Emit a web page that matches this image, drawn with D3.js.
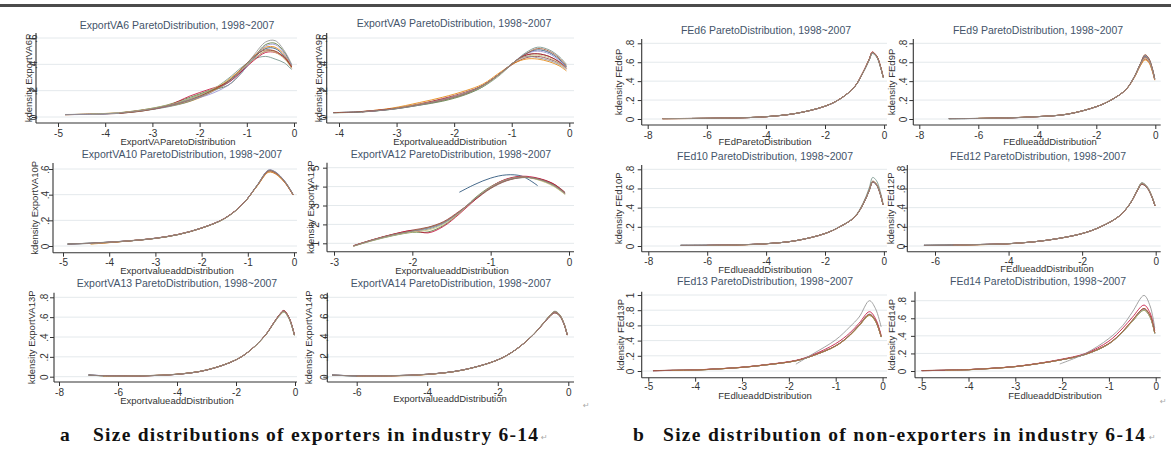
<!DOCTYPE html>
<html>
<head>
<meta charset="utf-8">
<script src="https://cdn.jsdelivr.net/npm/d3@7"></script>
<style>
  body { margin: 0; background: #ffffff; }
  svg text { font-family: "Liberation Sans", Arial, sans-serif; }
</style>
</head>
<body>
<svg id="fig" width="1171" height="450"></svg>
<script>
// ---- data: kernel density estimates per year, 1998-2007 ----
const years = [1998, 1999, 2000, 2001, 2002, 2003, 2004, 2005, 2006, 2007];

// ExportVA6
const va6Grid = [-4.85, -4.3, -3.7, -3.2, -2.7, -2.2, -1.8, -1.4, -1.1, -0.85, -0.6, -0.4, -0.2, -0.05];
const va6Density = [
  [0.018, 0.022, 0.030, 0.052, 0.085, 0.14, 0.20, 0.27, 0.36, 0.45, 0.52, 0.52, 0.46, 0.38],
  [null, 0.020, 0.028, 0.048, 0.080, 0.13, 0.19, 0.26, 0.35, 0.44, 0.50, 0.50, 0.45, 0.37],
  [null, null, 0.032, 0.055, 0.090, 0.15, 0.20, 0.24, 0.34, 0.45, 0.55, 0.56, 0.49, 0.39],
  [0.016, 0.024, 0.031, 0.050, 0.078, 0.12, 0.18, 0.28, 0.37, 0.46, 0.53, 0.53, 0.47, 0.38],
  [null, 0.022, 0.029, 0.047, 0.075, 0.12, 0.19, 0.29, 0.38, 0.44, 0.46, 0.44, 0.41, 0.36],
  [null, null, 0.030, 0.052, 0.083, 0.16, 0.21, 0.26, 0.35, 0.43, 0.49, 0.49, 0.45, 0.38],
  [0.017, 0.021, 0.030, 0.049, 0.079, 0.13, 0.17, 0.24, 0.34, 0.45, 0.54, 0.55, 0.48, 0.39],
  [null, 0.023, 0.033, 0.054, 0.088, 0.14, 0.20, 0.28, 0.36, 0.44, 0.50, 0.49, 0.44, 0.37],
  [null, null, 0.028, 0.046, 0.082, 0.13, 0.19, 0.27, 0.37, 0.46, 0.51, 0.50, 0.45, 0.38],
  [0.019, 0.022, 0.031, 0.051, 0.084, 0.13, 0.18, 0.26, 0.36, 0.47, 0.57, 0.58, 0.50, 0.40]
];

// ExportVA9
const va9Grid = [-4.1, -3.6, -3.1, -2.6, -2.2, -1.8, -1.5, -1.2, -0.95, -0.75, -0.55, -0.35, -0.18, -0.05];
const va9Density = [
  [0.033, 0.040, 0.060, 0.095, 0.130, 0.180, 0.240, 0.330, 0.420, 0.480, 0.510, 0.490, 0.440, 0.380],
  [null, 0.042, 0.063, 0.100, 0.140, 0.190, 0.240, 0.330, 0.410, 0.450, 0.460, 0.440, 0.410, 0.370],
  [0.032, 0.038, 0.058, 0.090, 0.120, 0.170, 0.230, 0.330, 0.420, 0.470, 0.480, 0.460, 0.420, 0.380],
  [null, 0.041, 0.066, 0.110, 0.150, 0.200, 0.250, 0.340, 0.410, 0.440, 0.440, 0.420, 0.390, 0.350],
  [0.034, 0.040, 0.057, 0.090, 0.125, 0.175, 0.230, 0.320, 0.420, 0.490, 0.530, 0.510, 0.460, 0.400],
  [null, 0.039, 0.061, 0.097, 0.135, 0.180, 0.240, 0.330, 0.420, 0.470, 0.480, 0.460, 0.420, 0.370],
  [0.033, 0.040, 0.059, 0.093, 0.130, 0.180, 0.240, 0.330, 0.420, 0.480, 0.500, 0.480, 0.430, 0.380],
  [null, null, 0.062, 0.098, 0.130, 0.180, 0.235, 0.325, 0.420, 0.460, 0.470, 0.450, 0.410, 0.370],
  [0.033, 0.041, 0.060, 0.094, 0.128, 0.178, 0.240, 0.330, 0.420, 0.480, 0.520, 0.500, 0.450, 0.390],
  [null, 0.040, 0.058, 0.092, 0.130, 0.180, 0.240, 0.330, 0.420, 0.460, 0.450, 0.430, 0.400, 0.360]
];

// ExportVA10
const va10Grid = [-4.9, -4.4, -4, -3.5, -3, -2.5, -2, -1.5, -1.1, -0.8, -0.55, -0.4, -0.2, -0.02];
const va10Density = [
  [0.015, 0.022, 0.030, 0.042, 0.060, 0.090, 0.140, 0.215, 0.330, 0.470, 0.585, 0.570, 0.500, 0.400],
  [null, 0.018, 0.027, 0.042, 0.061, 0.091, 0.141, 0.216, 0.331, 0.468, 0.578, 0.564, 0.496, 0.398],
  [0.016, 0.020, 0.028, 0.041, 0.059, 0.089, 0.139, 0.214, 0.329, 0.472, 0.590, 0.575, 0.504, 0.402],
  [null, 0.015, 0.026, 0.043, 0.060, 0.090, 0.140, 0.215, 0.330, 0.466, 0.575, 0.561, 0.494, 0.397],
  [0.015, 0.023, 0.031, 0.042, 0.060, 0.090, 0.140, 0.215, 0.330, 0.471, 0.588, 0.573, 0.502, 0.401],
  [null, 0.019, 0.029, 0.042, 0.060, 0.091, 0.140, 0.216, 0.331, 0.469, 0.582, 0.567, 0.498, 0.399],
  [0.014, 0.021, 0.030, 0.043, 0.061, 0.090, 0.141, 0.215, 0.330, 0.473, 0.592, 0.577, 0.505, 0.403],
  [null, 0.017, 0.028, 0.042, 0.060, 0.090, 0.140, 0.214, 0.329, 0.467, 0.580, 0.566, 0.497, 0.399],
  [0.015, 0.022, 0.030, 0.042, 0.060, 0.090, 0.140, 0.215, 0.330, 0.470, 0.586, 0.571, 0.500, 0.400],
  [0.016, 0.022, 0.030, 0.042, 0.060, 0.090, 0.140, 0.215, 0.330, 0.471, 0.589, 0.574, 0.503, 0.401]
];

// ExportVA12
const va12Grid = [-2.75, -2.5, -2.25, -2, -1.8, -1.6, -1.4, -1.2, -1, -0.8, -0.6, -0.4, -0.2, -0.05];
const va12Density = [
  [null, null, null, null, null, null, 3.70, 4.12, 4.45, 4.62, 4.55, 4.05, null, null],
  [0.88, 1.20, 1.48, 1.70, 1.85, 2.15, 2.70, 3.30, 3.90, 4.30, 4.48, 4.42, 4.15, 3.70],
  [0.85, 1.15, 1.40, 1.58, 1.60, 1.95, 2.60, 3.40, 4.00, 4.38, 4.52, 4.38, 4.05, 3.60],
  [0.86, 1.18, 1.45, 1.65, 1.82, 2.10, 2.65, 3.35, 3.95, 4.35, 4.50, 4.40, 4.10, 3.65],
  [0.86, 1.17, 1.43, 1.62, 1.75, 2.05, 2.62, 3.32, 3.92, 4.32, 4.47, 4.43, 4.12, 3.68],
  [0.87, 1.19, 1.47, 1.68, 1.55, 1.90, 2.55, 3.30, 3.98, 4.40, 4.55, 4.45, 4.15, 3.66],
  [0.86, 1.18, 1.44, 1.64, 1.80, 2.08, 2.66, 3.36, 3.95, 4.34, 4.49, 4.39, 4.08, 3.63],
  [0.85, 1.16, 1.42, 1.60, 1.70, 2.00, 2.60, 3.35, 3.97, 4.36, 4.50, 4.36, 4.02, 3.58],
  [0.87, 1.19, 1.46, 1.66, 1.83, 2.12, 2.67, 3.34, 3.93, 4.33, 4.49, 4.41, 4.11, 3.66],
  [0.86, 1.18, 1.45, 1.65, 1.81, 2.10, 2.64, 3.36, 3.96, 4.36, 4.51, 4.40, 4.09, 3.64]
];

// ExportVA13
const va13Grid = [-7, -6.5, -6, -5, -4, -3, -2, -1.5, -1, -0.7, -0.5, -0.38, -0.2, -0.02];
const va13Density = [
  [0.017, 0.010, 0.007, 0.010, 0.024, 0.067, 0.170, 0.270, 0.420, 0.550, 0.630, 0.660, 0.590, 0.420],
  [null, 0.006, 0.005, 0.011, 0.025, 0.068, 0.171, 0.271, 0.421, 0.552, 0.634, 0.665, 0.594, 0.422],
  [0.016, 0.009, 0.007, 0.010, 0.024, 0.067, 0.170, 0.270, 0.419, 0.548, 0.626, 0.655, 0.586, 0.418],
  [null, 0.005, 0.004, 0.010, 0.024, 0.066, 0.169, 0.269, 0.420, 0.551, 0.632, 0.663, 0.592, 0.421],
  [0.017, 0.010, 0.008, 0.011, 0.025, 0.067, 0.170, 0.270, 0.418, 0.546, 0.622, 0.650, 0.582, 0.416],
  [null, 0.008, 0.006, 0.010, 0.024, 0.067, 0.170, 0.271, 0.421, 0.553, 0.636, 0.668, 0.596, 0.423],
  [0.018, 0.011, 0.007, 0.010, 0.023, 0.066, 0.169, 0.270, 0.420, 0.549, 0.628, 0.657, 0.588, 0.419],
  [null, 0.004, 0.005, 0.011, 0.025, 0.068, 0.171, 0.270, 0.419, 0.547, 0.624, 0.652, 0.584, 0.417],
  [0.017, 0.010, 0.007, 0.010, 0.024, 0.067, 0.170, 0.270, 0.420, 0.551, 0.631, 0.662, 0.591, 0.420],
  [0.016, 0.009, 0.006, 0.010, 0.024, 0.067, 0.170, 0.271, 0.421, 0.552, 0.633, 0.664, 0.593, 0.421]
];

// ExportVA14
const va14Grid = [-6.7, -6, -5, -4, -3, -2, -1.5, -1, -0.7, -0.5, -0.38, -0.25, -0.12, -0.03];
const va14Density = [
  [0.017, 0.008, 0.010, 0.024, 0.067, 0.170, 0.270, 0.420, 0.540, 0.620, 0.650, 0.620, 0.530, 0.420],
  [null, 0.006, 0.009, 0.023, 0.067, 0.170, 0.270, 0.421, 0.543, 0.625, 0.656, 0.625, 0.534, 0.422],
  [0.016, 0.008, 0.010, 0.024, 0.066, 0.169, 0.269, 0.419, 0.537, 0.614, 0.642, 0.613, 0.526, 0.418],
  [null, 0.004, 0.008, 0.022, 0.067, 0.170, 0.270, 0.420, 0.541, 0.622, 0.652, 0.622, 0.532, 0.421],
  [0.017, 0.009, 0.011, 0.025, 0.068, 0.171, 0.271, 0.421, 0.544, 0.627, 0.660, 0.628, 0.536, 0.423],
  [null, 0.007, 0.010, 0.024, 0.067, 0.170, 0.270, 0.419, 0.538, 0.616, 0.645, 0.616, 0.528, 0.419],
  [0.018, 0.008, 0.010, 0.024, 0.067, 0.170, 0.270, 0.420, 0.539, 0.618, 0.648, 0.618, 0.529, 0.420],
  [null, 0.005, 0.009, 0.023, 0.066, 0.170, 0.270, 0.421, 0.542, 0.624, 0.654, 0.624, 0.533, 0.421],
  [0.017, 0.008, 0.010, 0.024, 0.067, 0.170, 0.270, 0.420, 0.540, 0.621, 0.651, 0.621, 0.531, 0.420],
  [0.016, 0.008, 0.010, 0.024, 0.067, 0.170, 0.270, 0.420, 0.541, 0.623, 0.655, 0.623, 0.532, 0.421]
];

// FEd6
const fed6Grid = [-7.5, -6.5, -5.5, -4.5, -4, -3, -2, -1.5, -1, -0.7, -0.5, -0.4, -0.25, -0.12, -0.03];
const fed6Density = [
  [0.004, 0.006, 0.009, 0.016, 0.024, 0.058, 0.135, 0.210, 0.340, 0.500, 0.630, 0.700, 0.660, 0.550, 0.440],
  [0.002, 0.005, 0.009, 0.016, 0.024, 0.058, 0.135, 0.210, 0.341, 0.502, 0.633, 0.704, 0.663, 0.552, 0.441],
  [null, 0.006, 0.010, 0.017, 0.025, 0.059, 0.136, 0.211, 0.339, 0.498, 0.626, 0.695, 0.656, 0.547, 0.438],
  [0.003, 0.005, 0.008, 0.016, 0.024, 0.058, 0.135, 0.210, 0.340, 0.501, 0.632, 0.703, 0.662, 0.551, 0.441],
  [null, 0.006, 0.009, 0.016, 0.024, 0.058, 0.135, 0.210, 0.339, 0.497, 0.624, 0.692, 0.654, 0.546, 0.437],
  [0.004, 0.006, 0.009, 0.016, 0.024, 0.058, 0.135, 0.211, 0.341, 0.503, 0.636, 0.708, 0.667, 0.554, 0.442],
  [null, 0.005, 0.009, 0.016, 0.024, 0.058, 0.134, 0.209, 0.339, 0.499, 0.628, 0.698, 0.658, 0.548, 0.439],
  [0.003, 0.006, 0.009, 0.016, 0.024, 0.058, 0.135, 0.210, 0.340, 0.500, 0.631, 0.701, 0.661, 0.550, 0.440],
  [null, 0.006, 0.009, 0.016, 0.024, 0.058, 0.135, 0.210, 0.340, 0.501, 0.634, 0.706, 0.665, 0.553, 0.441],
  [0.004, 0.006, 0.009, 0.016, 0.024, 0.058, 0.135, 0.210, 0.340, 0.500, 0.630, 0.700, 0.660, 0.550, 0.440]
];

// FEd9
const fed9Grid = [-7, -6, -5, -4, -3, -2, -1.5, -1, -0.7, -0.5, -0.35, -0.22, -0.1, -0.02];
const fed9Density = [
  [0.004, 0.006, 0.012, 0.025, 0.050, 0.130, 0.200, 0.310, 0.452, 0.585, 0.665, 0.630, 0.528, 0.424],
  [null, 0.005, 0.011, 0.025, 0.050, 0.130, 0.200, 0.309, 0.447, 0.572, 0.635, 0.605, 0.510, 0.414],
  [0.003, 0.006, 0.012, 0.024, 0.050, 0.130, 0.200, 0.310, 0.451, 0.583, 0.660, 0.627, 0.525, 0.422],
  [null, 0.007, 0.013, 0.025, 0.051, 0.131, 0.201, 0.309, 0.445, 0.566, 0.625, 0.596, 0.504, 0.410],
  [0.004, 0.006, 0.012, 0.025, 0.050, 0.130, 0.200, 0.311, 0.453, 0.588, 0.675, 0.638, 0.532, 0.426],
  [null, 0.006, 0.012, 0.025, 0.050, 0.130, 0.200, 0.310, 0.450, 0.580, 0.650, 0.618, 0.518, 0.418],
  [0.004, 0.005, 0.011, 0.024, 0.050, 0.130, 0.200, 0.310, 0.452, 0.586, 0.670, 0.634, 0.530, 0.425],
  [null, 0.006, 0.012, 0.025, 0.050, 0.130, 0.200, 0.310, 0.449, 0.577, 0.645, 0.614, 0.516, 0.417],
  [0.004, 0.006, 0.012, 0.025, 0.050, 0.130, 0.200, 0.311, 0.453, 0.589, 0.680, 0.642, 0.534, 0.427],
  [0.004, 0.006, 0.012, 0.025, 0.050, 0.130, 0.200, 0.310, 0.451, 0.582, 0.658, 0.625, 0.523, 0.421]
];

// FEd10
const fed10Grid = [-6.9, -6, -5, -4, -3, -2, -1.5, -1, -0.7, -0.5, -0.38, -0.25, -0.12, -0.03];
const fed10Density = [
  [0.007, 0.008, 0.012, 0.024, 0.055, 0.130, 0.200, 0.300, 0.440, 0.580, 0.670, 0.640, 0.540, 0.430],
  [null, 0.006, 0.011, 0.024, 0.055, 0.130, 0.200, 0.301, 0.442, 0.584, 0.676, 0.645, 0.543, 0.432],
  [0.006, 0.007, 0.012, 0.024, 0.055, 0.130, 0.200, 0.299, 0.438, 0.576, 0.664, 0.635, 0.537, 0.428],
  [null, 0.005, 0.010, 0.023, 0.055, 0.130, 0.200, 0.300, 0.441, 0.582, 0.673, 0.642, 0.541, 0.431],
  [0.007, 0.008, 0.012, 0.024, 0.055, 0.131, 0.202, 0.305, 0.452, 0.605, 0.715, 0.680, 0.565, 0.445],
  [null, 0.007, 0.012, 0.024, 0.055, 0.130, 0.200, 0.300, 0.440, 0.579, 0.668, 0.638, 0.539, 0.429],
  [0.007, 0.008, 0.012, 0.024, 0.055, 0.130, 0.200, 0.300, 0.439, 0.577, 0.666, 0.636, 0.538, 0.429],
  [null, 0.006, 0.011, 0.024, 0.055, 0.130, 0.200, 0.301, 0.442, 0.583, 0.675, 0.644, 0.543, 0.432],
  [0.007, 0.008, 0.012, 0.024, 0.055, 0.130, 0.200, 0.300, 0.440, 0.580, 0.670, 0.640, 0.540, 0.430],
  [0.007, 0.008, 0.012, 0.024, 0.055, 0.130, 0.200, 0.300, 0.441, 0.581, 0.672, 0.641, 0.541, 0.430]
];

// FEd12
const fed12Grid = [-6.3, -5.5, -4.5, -4, -3, -2, -1.5, -1, -0.7, -0.5, -0.38, -0.25, -0.12, -0.02];
const fed12Density = [
  [0.007, 0.010, 0.018, 0.024, 0.058, 0.130, 0.200, 0.310, 0.440, 0.580, 0.650, 0.620, 0.530, 0.420],
  [null, 0.009, 0.017, 0.024, 0.058, 0.130, 0.200, 0.310, 0.441, 0.583, 0.656, 0.625, 0.533, 0.422],
  [0.006, 0.010, 0.018, 0.024, 0.058, 0.130, 0.200, 0.309, 0.438, 0.576, 0.642, 0.613, 0.526, 0.418],
  [null, 0.008, 0.016, 0.023, 0.058, 0.130, 0.200, 0.310, 0.440, 0.581, 0.652, 0.622, 0.531, 0.421],
  [0.007, 0.011, 0.019, 0.025, 0.058, 0.130, 0.200, 0.311, 0.442, 0.585, 0.660, 0.628, 0.535, 0.423],
  [null, 0.010, 0.018, 0.024, 0.058, 0.130, 0.200, 0.309, 0.439, 0.577, 0.645, 0.616, 0.527, 0.419],
  [0.007, 0.010, 0.018, 0.024, 0.058, 0.130, 0.200, 0.310, 0.440, 0.579, 0.648, 0.618, 0.529, 0.420],
  [null, 0.009, 0.017, 0.024, 0.058, 0.130, 0.200, 0.310, 0.441, 0.582, 0.654, 0.623, 0.532, 0.421],
  [0.007, 0.010, 0.018, 0.024, 0.058, 0.130, 0.200, 0.310, 0.439, 0.578, 0.646, 0.617, 0.528, 0.419],
  [0.007, 0.010, 0.018, 0.024, 0.058, 0.130, 0.200, 0.310, 0.440, 0.580, 0.651, 0.621, 0.530, 0.420]
];

// FEd13
const fed13Grid = [-4.9, -4.5, -4, -3.5, -3, -2.5, -1.85, -1.5, -1, -0.7, -0.5, -0.28, -0.15, -0.03];
const fed13Density = [
  [0.004, 0.008, 0.013, 0.028, 0.048, 0.080, 0.135, 0.200, 0.330, 0.470, 0.600, 0.740, 0.660, 0.450],
  [0.005, 0.009, 0.014, 0.029, 0.049, 0.081, 0.136, 0.201, 0.331, 0.472, 0.603, 0.745, 0.664, 0.452],
  [null, 0.007, 0.012, 0.027, 0.048, 0.080, 0.134, 0.199, 0.328, 0.466, 0.594, 0.730, 0.652, 0.446],
  [0.004, 0.008, 0.013, 0.028, 0.048, 0.080, 0.135, 0.200, 0.329, 0.468, 0.597, 0.735, 0.656, 0.448],
  [null, 0.008, 0.013, 0.028, 0.048, 0.080, 0.135, 0.201, 0.332, 0.473, 0.605, 0.748, 0.667, 0.454],
  [0.004, 0.008, 0.014, 0.029, 0.050, 0.083, 0.140, 0.210, 0.360, 0.500, 0.630, 0.780, 0.690, 0.470],
  [0.004, 0.008, 0.013, 0.028, 0.048, 0.080, 0.135, 0.200, 0.330, 0.470, 0.600, 0.740, 0.660, 0.450],
  [null, 0.007, 0.012, 0.027, 0.048, 0.080, 0.134, 0.199, 0.329, 0.468, 0.598, 0.737, 0.657, 0.449],
  [0.005, 0.009, 0.013, 0.028, 0.048, 0.080, 0.135, 0.200, 0.331, 0.471, 0.602, 0.742, 0.662, 0.451],
  [null, null, null, null, null, null, 0.090, 0.220, 0.410, 0.580, 0.710, 0.925, 0.820, 0.580]
];

// FEd14
const fed14Grid = [-5, -4.5, -4, -3.5, -3, -2.5, -2.05, -1.5, -1, -0.7, -0.5, -0.25, -0.12, -0.02];
const fed14Density = [
  [0.004, 0.008, 0.015, 0.030, 0.050, 0.085, 0.125, 0.190, 0.310, 0.450, 0.570, 0.700, 0.620, 0.430],
  [0.005, 0.009, 0.016, 0.031, 0.051, 0.086, 0.126, 0.191, 0.312, 0.453, 0.575, 0.708, 0.627, 0.434],
  [null, 0.007, 0.014, 0.029, 0.050, 0.085, 0.124, 0.189, 0.308, 0.446, 0.563, 0.690, 0.612, 0.426],
  [0.004, 0.008, 0.015, 0.030, 0.050, 0.085, 0.125, 0.190, 0.311, 0.452, 0.573, 0.705, 0.624, 0.432],
  [null, 0.008, 0.015, 0.030, 0.050, 0.085, 0.125, 0.190, 0.309, 0.448, 0.566, 0.694, 0.615, 0.428],
  [0.004, 0.008, 0.016, 0.031, 0.052, 0.088, 0.130, 0.200, 0.340, 0.490, 0.610, 0.750, 0.660, 0.460],
  [0.004, 0.008, 0.015, 0.030, 0.050, 0.085, 0.125, 0.190, 0.310, 0.450, 0.571, 0.702, 0.622, 0.431],
  [null, 0.007, 0.014, 0.029, 0.050, 0.085, 0.125, 0.190, 0.309, 0.447, 0.565, 0.692, 0.614, 0.427],
  [0.005, 0.009, 0.015, 0.030, 0.050, 0.085, 0.125, 0.191, 0.312, 0.454, 0.576, 0.712, 0.630, 0.435],
  [null, null, null, null, null, null, 0.080, 0.200, 0.370, 0.520, 0.670, 0.860, 0.740, 0.490]
];

// axis tick values
const ticksM5to0 = [-5, -4, -3, -2, -1, 0];
const ticksM4to0 = [-4, -3, -2, -1, 0];
const ticksM3to0 = [-3, -2, -1, 0];
const ticksM8to0 = [-8, -6, -4, -2, 0];
const ticksM6to0 = [-6, -4, -2, 0];
const yTicks06 = [0, 0.2, 0.4, 0.6];
const yTicks08 = [0, 0.2, 0.4, 0.6, 0.8];
const yTicks10 = [0, 0.2, 0.4, 0.6, 0.8, 1];
const yTicks15 = [1, 2, 3, 4, 5];

// ---- styling ----
const yearColors = ["#1a476f", "#90353b", "#55752f", "#e37e00", "#6e8e84",
                    "#c10534", "#938dd2", "#cac27e", "#a0522d", "#8c8c8c"];

// panel frames: [tick value -> pixel] anchors and label placement
const panels = [
  { title: "ExportVA6 ParetoDistribution, 1998~2007", yTitle: "kdensity ExportVA6P", xTitle: "ExportVAParetoDistribution",
    grid: va6Grid, dens: va6Density, xTicks: ticksM5to0, yTicks: yTicks06,
    f: { xd: [-5, 0], xr: [58, 294], yd: [0, 0.6], yr: [117, 38], ax: 36, top: 33, bottom: 123, right: 297,
         tx: 177, ty: 25, ytx: 28.5, ytk: 33, xty: 133, xtx: 178, xtt: 141.5 } },
  { title: "ExportVA9 ParetoDistribution, 1998~2007", yTitle: "kdensity ExportVA9P", xTitle: "ExportvalueaddDistribution",
    grid: va9Grid, dens: va9Density, xTicks: ticksM4to0, yTicks: yTicks06,
    f: { xd: [-4, 0], xr: [339, 569.3], yd: [0, 0.6], yr: [117, 38], ax: 326.7, top: 33, bottom: 123, right: 574,
         tx: 454, ty: 23, ytx: 318.5, ytk: 323.5, xty: 133, xtx: 450, xtt: 141.5 } },
  { title: "ExportVA10 ParetoDistribution, 1998~2007", yTitle: "kdensity ExportVA10P", xTitle: "ExportvalueaddDistribution",
    grid: va10Grid, dens: va10Density, xTicks: ticksM5to0, yTicks: yTicks06,
    f: { xd: [-5, 0], xr: [63, 294], yd: [0, 0.6], yr: [246, 169], ax: 53, top: 163, bottom: 252.7, right: 297,
         tx: 182, ty: 154, ytx: 34, ytk: 45.5, xty: 263, xtx: 177, xtt: 270.5 } },
  { title: "ExportVA12 ParetoDistribution, 1998~2007", yTitle: "kdensity ExportVA12P", xTitle: "ExportvalueaddDistribution",
    grid: va12Grid, dens: va12Density, xTicks: ticksM3to0, yTicks: yTicks15,
    f: { xd: [-3, 0], xr: [334, 569], yd: [1, 5], yr: [243.3, 167.7], ax: 327, top: 162.7, bottom: 251.7, right: 574,
         tx: 451, ty: 154, ytx: 310, ytk: 315, xty: 263, xtx: 452, xtt: 270.5 } },
  { title: "ExportVA13 ParetoDistribution, 1998~2007", yTitle: "kdensity ExportVA13P", xTitle: "ExportvalueaddDistribution",
    grid: va13Grid, dens: va13Density, xTicks: ticksM8to0, yTicks: yTicks08,
    f: { xd: [-8, 0], xr: [59, 295], yd: [0, 0.8], yr: [376.7, 297.3], ax: 54, top: 292.7, bottom: 382, right: 297,
         tx: 177, ty: 283, ytx: 31.5, ytk: 44.5, xty: 392.7, xtx: 177, xtt: 400.5 } },
  { title: "ExportVA14 ParetoDistribution, 1998~2007", yTitle: "kdensity ExportVA14P", xTitle: "ExportvalueaddDistribution",
    grid: va14Grid, dens: va14Density, xTicks: ticksM6to0, yTicks: yTicks08,
    f: { xd: [-6, 0], xr: [356.7, 568.3], yd: [0, 0.8], yr: [376.7, 297.3], ax: 327.3, top: 292.7, bottom: 382, right: 574,
         tx: 451, ty: 283, ytx: 308.5, ytk: 324, xty: 392.7, xtx: 450, xtt: 399 } },
  { title: "FEd6 ParetoDistribution, 1998~2007", yTitle: "kdensity FEd6P", xTitle: "FEdParetoDistribution",
    grid: fed6Grid, dens: fed6Density, xTicks: ticksM8to0, yTicks: yTicks08,
    f: { xd: [-8, -2], xr: [647.7, 825], yd: [0, 0.8], yr: [119, 43.3], ax: 641.7, top: 39, bottom: 125, right: 887,
         tx: 766, ty: 30.7, ytx: 618.5, ytk: 630, xty: 135, xtx: 765, xtt: 142 } },
  { title: "FEd9 ParetoDistribution, 1998~2007", yTitle: "kdensity FEd9P", xTitle: "FEdlueaddDistribution",
    grid: fed9Grid, dens: fed9Density, xTicks: ticksM8to0, yTicks: yTicks08,
    f: { xd: [-8, 0], xr: [919.3, 1155.3], yd: [0, 0.8], yr: [119, 43.3], ax: 913.3, top: 39, bottom: 125, right: 1160.7,
         tx: 1038, ty: 30.7, ytx: 891.5, ytk: 903, xty: 135, xtx: 1050, xtt: 142 } },
  { title: "FEd10 ParetoDistribution, 1998~2007", yTitle: "kdensity FEd10P", xTitle: "FEdlueaddDistribution",
    grid: fed10Grid, dens: fed10Density, xTicks: ticksM8to0, yTicks: yTicks08,
    f: { xd: [-8, -2], xr: [648.3, 825], yd: [0, 0.8], yr: [246, 169.3], ax: 641.7, top: 165, bottom: 251.7, right: 887,
         tx: 765, ty: 156, ytx: 618.5, ytk: 630, xty: 262, xtx: 765, xtt: 269.5 } },
  { title: "FEd12 ParetoDistribution, 1998~2007", yTitle: "kdensity FEd12P", xTitle: "FEdlueaddDistribution",
    grid: fed12Grid, dens: fed12Density, xTicks: ticksM6to0, yTicks: yTicks08,
    f: { xd: [-6, 0], xr: [935, 1155.7], yd: [0, 0.8], yr: [246, 169.3], ax: 907.3, top: 165, bottom: 251.7, right: 1160.7,
         tx: 1038, ty: 156, ytx: 890, ytk: 901, xty: 262, xtx: 1047, xtt: 268.5 } },
  { title: "FEd13 ParetoDistribution, 1998~2007", yTitle: "kdensity FEd13P", xTitle: "FEdlueaddDistribution",
    grid: fed13Grid, dens: fed13Density, xTicks: ticksM5to0, yTicks: yTicks10,
    f: { xd: [-5, -1], xr: [648.3, 835.7], yd: [0, 1], yr: [371, 295], ax: 641.7, top: 291.7, bottom: 377.7, right: 887,
         tx: 765, ty: 281.7, ytx: 620, ytk: 630, xty: 387, xtx: 765, xtt: 395.5 } },
  { title: "FEd14 ParetoDistribution, 1998~2007", yTitle: "kdensity FEd14P", xTitle: "FEdlueaddDistribution",
    grid: fed14Grid, dens: fed14Density, xTicks: ticksM5to0, yTicks: yTicks08,
    f: { xd: [-5, 0], xr: [921.7, 1155.7], yd: [0, 0.8], yr: [371, 300.7], ax: 915, top: 291.7, bottom: 377.7, right: 1160.7,
         tx: 1038, ty: 281.7, ytx: 891.5, ytk: 902.5, xty: 387, xtx: 1055, xtt: 395.5 } }
];

const svg = d3.select("#fig");

// header rule
svg.append("rect").attr("x", 0).attr("y", 4).attr("width", 1171).attr("height", 3).attr("fill", "#4b4b4b");

// Stata-style tick labels: 0, .2, .4 ...
const stataFmt = d => String(+d.toFixed(2)).replace(/^0\./, ".").replace(/^-0\./, "-.");

panels.forEach(p => {
  const f = p.f;
  const g = svg.append("g");
  const x = d3.scaleLinear().domain(f.xd).range(f.xr);
  const y = d3.scaleLinear().domain(f.yd).range(f.yr);

  // horizontal grid lines
  g.append("g").selectAll("line").data(p.yTicks).join("line")
    .attr("x1", f.ax + 1).attr("x2", f.right)
    .attr("y1", d => y(d)).attr("y2", d => y(d))
    .attr("stroke", "#e4e9ec").attr("stroke-width", 1);

  // density curves, one per year
  const line = d3.line()
    .defined(d => d[1] != null)
    .x(d => x(d[0])).y(d => y(d[1]))
    .curve(d3.curveCatmullRom.alpha(0.5));
  g.append("g").selectAll("path").data(p.dens).join("path")
    .attr("d", row => line(row.map((v, i) => [p.grid[i], v])))
    .attr("fill", "none")
    .attr("stroke", (row, i) => yearColors[i])
    .attr("stroke-width", 0.9)
    .attr("stroke-opacity", 0.9);

  // y axis
  const yAx = g.append("g").attr("transform", `translate(${f.ax},0)`)
    .call(d3.axisLeft(y).tickValues(p.yTicks).tickSize(4).tickSizeOuter(0).tickFormat(stataFmt));
  yAx.select(".domain").remove();
  yAx.selectAll(".tick line").attr("stroke", "#333");
  yAx.selectAll(".tick text")
    .attr("x", null).attr("dy", null)
    .attr("transform", `translate(${f.ytk - f.ax},0) rotate(-90)`)
    .attr("text-anchor", "middle").attr("dominant-baseline", "central")
    .attr("font-size", 10).attr("fill", "#333")
    .style("font-family", "'Liberation Sans', Arial, sans-serif");
  g.append("line").attr("x1", f.ax).attr("x2", f.ax).attr("y1", f.top).attr("y2", f.bottom)
    .attr("stroke", "#333").attr("stroke-width", 1.1);

  // x axis
  const xAx = g.append("g").attr("transform", `translate(0,${f.bottom})`)
    .call(d3.axisBottom(x).tickValues(p.xTicks).tickSize(4).tickSizeOuter(0).tickFormat(stataFmt));
  xAx.select(".domain").remove();
  xAx.selectAll(".tick line").attr("stroke", "#333");
  xAx.selectAll(".tick text")
    .attr("y", f.xty - f.bottom).attr("dy", "0.35em")
    .attr("font-size", 10).attr("fill", "#333")
    .style("font-family", "'Liberation Sans', Arial, sans-serif");
  g.append("line").attr("x1", f.ax).attr("x2", f.right).attr("y1", f.bottom).attr("y2", f.bottom)
    .attr("stroke", "#333").attr("stroke-width", 1.1);

  // titles
  g.append("text").attr("x", f.tx).attr("y", f.ty).attr("dy", "0.35em")
    .attr("text-anchor", "middle").attr("font-size", 10.5).attr("fill", "#44546a")
    .text(p.title);
  g.append("text").attr("x", f.xtx).attr("y", f.xtt).attr("dy", "0.35em")
    .attr("text-anchor", "middle").attr("font-size", 9.5).attr("fill", "#333")
    .text(p.xTitle);
  g.append("text")
    .attr("transform", `translate(${f.ytx},${(f.top + f.bottom) / 2}) rotate(-90)`)
    .attr("text-anchor", "middle").attr("dominant-baseline", "central")
    .attr("font-size", 9.5).attr("fill", "#333")
    .text(p.yTitle);
});

// figure captions
const capFont = "'Liberation Serif', 'Times New Roman', serif";
const captions = [
  { label: "a", lx: 60, tx: 93, len: 445, text: "Size distributions of exporters in industry 6-14", mark: 541 },
  { label: "b", lx: 633, tx: 663, len: 482, text: "Size distribution of non-exporters in industry 6-14", mark: 1149 }
];
captions.forEach(c => {
  svg.append("text").attr("x", c.lx).attr("y", 441).attr("font-size", 19.5).attr("font-weight", "bold")
    .style("font-family", capFont).attr("fill", "#111").text(c.label);
  svg.append("text").attr("x", c.tx).attr("y", 441).attr("font-size", 19.5).attr("font-weight", "bold")
    .style("font-family", capFont).attr("fill", "#111")
    .attr("textLength", c.len).attr("lengthAdjust", "spacing").text(c.text);
  svg.append("text").attr("x", c.mark).attr("y", 440).attr("font-size", 8).attr("fill", "#aaa")
    .style("font-family", "'DejaVu Sans', sans-serif").text("\u21B5");
});
// paragraph marks beside the chart rows
[[583, 408], [1160, 404]].forEach(([mx, my]) => {
  svg.append("text").attr("x", mx).attr("y", my).attr("font-size", 8).attr("fill", "#aaa")
    .style("font-family", "'DejaVu Sans', sans-serif").text("\u21B5");
});
</script>
</body>
</html>
